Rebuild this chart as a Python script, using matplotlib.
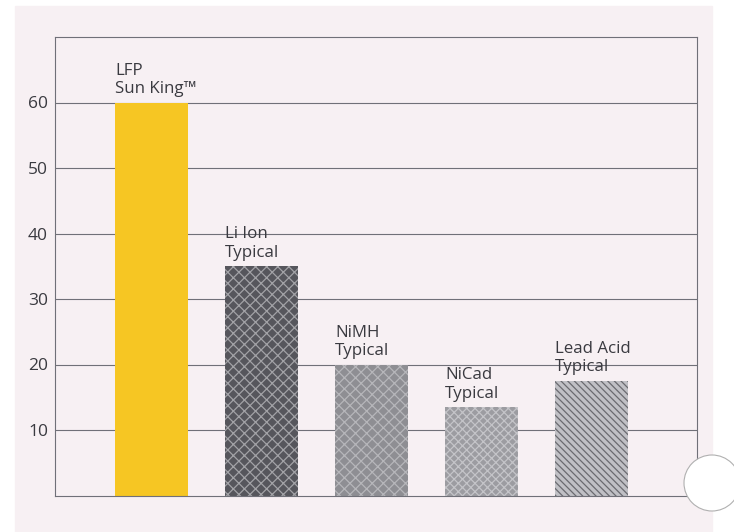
"""
Battery chemistry comparison bar chart (scanned brochure style).
"""

import matplotlib as mpl
import matplotlib.pyplot as plt
from matplotlib.patches import Rectangle, Ellipse

mpl.use("Agg")

# data
labels = ["LFP\nSun King\u2122", "Li Ion\nTypical", "NiMH\nTypical",
          "NiCad\nTypical", "Lead Acid\nTypical"]
values = [60, 35, 20, 13.5, 17.5]
yticks = [10, 20, 30, 40, 50, 60]

face_colors = ["#f6c623", "#56565c", "#8e8e93", "#9c9ca1", "#c0c0c5"]
hatch_colors = ["#f6c623", "#a2a2a6", "#b6b6ba", "#c4c4c8", "#6a6a70"]
hatches = [None, "xxx", "xxx", "xxxx", "\\\\\\\\\\"]

plt.rcParams["font.family"] = ["Open Sans", "DejaVu Sans"]
plt.rcParams["hatch.linewidth"] = 0.9

fig = plt.figure(figsize=(7.34, 5.32), dpi=100, facecolor="white")

# paper background of the scan
fig.patches.append(Rectangle((15 / 734, 0), (712 - 15) / 734, 1 - 6 / 532,
                             transform=fig.transFigure, color="#f7f0f3",
                             zorder=-10))

ax = fig.add_axes([55 / 734, 1 - 495.5 / 532, (697 - 55) / 734, (495.5 - 37) / 532])
ax.set_facecolor("none")

x = list(range(len(values)))
for i, v in enumerate(values):
    ax.bar(x[i], v, width=0.664, color=face_colors[i],
           edgecolor=hatch_colors[i], linewidth=0, hatch=hatches[i], zorder=2)
    ax.annotate(labels[i], xy=(x[i] - 0.332, v), xytext=(0, 4),
                textcoords="offset points", ha="left", va="bottom",
                fontsize=12.2, color="#3a3a40", linespacing=1.2)

ax.set_xlim(-0.877, 4.96)
ax.set_ylim(0, 70)
ax.set_yticks(yticks)
ax.set_xticks([])
ax.tick_params(axis="y", length=0, pad=5, labelsize=12.5, labelcolor="#3a3a40")
ax.grid(axis="y", color="#707078", linewidth=0.8, zorder=0)
ax.set_axisbelow(True)
for s in ax.spines.values():
    s.set_color("#707078")
    s.set_linewidth(0.8)

# hole punch on the right edge of the scanned page
fig.patches.append(Ellipse((712 / 734, 1 - 483 / 532), 56 / 734, 56 / 532,
                           transform=fig.transFigure, facecolor="white",
                           edgecolor="#b0b0b0", linewidth=0.8, zorder=10))

plt.savefig("out.png", dpi=100, facecolor=fig.get_facecolor())
